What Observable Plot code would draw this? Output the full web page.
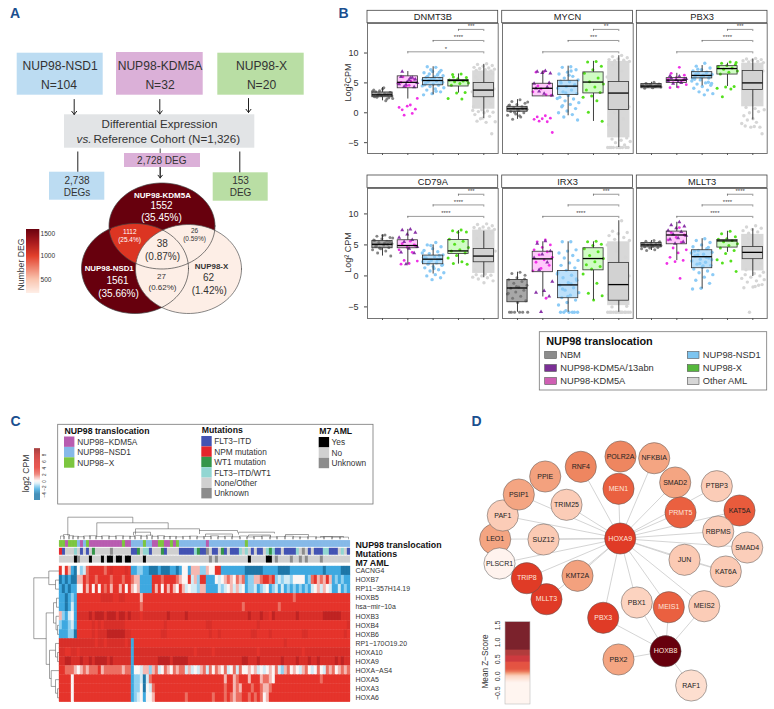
<!DOCTYPE html>
<html><head><meta charset="utf-8">
<script src="https://cdn.jsdelivr.net/npm/d3@7"></script>
<script src="https://cdn.jsdelivr.net/npm/@observablehq/plot@0.6"></script>
<style>html,body{margin:0;padding:0;background:#fff}#page{position:relative;width:774px;height:709px;overflow:hidden}#page svg{position:absolute;overflow:visible}</style>
</head><body><div id="page"></div>
<script>
// ---------- Panel B data: [low whisker, q1, median, q3, high whisker] for each group
const groups=["NBM","NUP98-KDM5A","NUP98-NSD1","NUP98-X","Other AML"];
const DNMT3B_box=[[2,2.6,3,3.4,4.2],[2.3,4.1,5.1,6.1,6.9],[3,4.6,5.4,5.8,7.7],[3.3,4.4,5.4,5.5,6.5],[-.95,2.6,3.8,5,8.1]];
const MYCN_box=[[-1.1,.17,.67,1,2.2],[2.7,2.74,4.1,4.86,7],[-.5,2.96,4.46,5.36,7.8],[-1.45,3.24,5.14,6.76,8.6],[-5.8,.45,3.3,5.14,9.55]];
const PBX3_box=[[4,4.1,4.46,4.8,5.1],[4.1,5,5.47,5.8,6.6],[4.5,5.75,6.25,6.8,7.9],[4.4,6.4,7.4,7.8,8.3],[-1.2,3.8,5,7,9]];
const CD79A_box=[[3.2,4.46,5.1,5.65,6.6],[1.8,4.46,4.9,5.75,7.5],[.3,1.88,2.7,3.28,5],[1.9,3.55,4.03,5.8,7.3],[-.3,2.2,3.2,4.35,7.2]];
const IRX3_box=[[-5.86,-4.25,-1.95,-.65,.6],[-3.4,.6,2.75,3.9,5.5],[-5.86,-3.6,-1.45,.8,5.5],[-3.9,.9,2.8,4.46,5.5],[-5.86,-4,-1.4,2.1,8.9]];
const MLLT3_box=[[4.1,4.6,5,5.3,5.7],[2.47,5.1,6.6,7.15,8.65],[-2.1,1.24,3.1,4.14,6],[3.8,4.57,5.65,5.8,7.2],[-.1,2.7,3.8,4.68,7.6]];
// points: NBM, KDM5A, KDM5A/13abn, NSD1, X, Other (tails of the cloud and outliers)
const DNMT3B_pts=[[3.1,2.6,3.4,2.9,3.8,2.3,3.2,2.8,4.2,3.5,2.5,3,3.6,2,2.9,3.3,4,2.7,3.1,3.7,2.4,3.2],
[1.3,.5,.6,1.1,.9,-.1,-.4,2.4,4.6,5.1,5.6,4.4,4.9,5.3,6],[5.8,6.9,5.6,5.2,4.8,5.9,4.4,5,5.5,6,4.3,4.7],
[7.6,7.7,7.1,6.9,6.7,6.4,6.5,6.2,6,5.9,5.8,5.6,5.5,5.3,5.2,5,4.8,4.7,4.6,4.4,4.2,4,3.8,3.5,3.2,3,6.3,5.4,5.1,5.7,4.9,6.8,7.2,4.5,3.6,6.1],
[6.5,6.4,5.9,5.7,5.5,5.3,5.2,5,4.9,4.6,3.4,3.3,2.4,2.3,6,5.4],[8.2,8.1,7.9,7.8,7.6,7.5,7.4,7.3,7.2,7.1,7,.5,.4,.3,.2,.1,0,-.3,-.6,-1,-1.5,-1.6,-1.4,-3.5,-.9,1,2,3,4,5,6,1.5,2.5,3.5,4.5,5.5,6.5]];
const MYCN_pts=[[2.2,1.9,1.6,1.4,1.2,1,.8,.6,.4,.2,0,-.2,-.4,-.7,-1.1,.9,.5,1.3,.7,.1,1.8,-.5],
[-.5,-.7,-.9,-1,-1.1,-1.5,-1.4,-3.3,6.9,6.8,4.9,4,3.5,3,4.5,2.9],[7,6.9,6.6,6.7,4.9,4.3,3.6,2.9,3.2,4.1,5],
[7.7,7.6,7.2,6.8,6.5,6.1,5.8,5.5,5.2,5,4.7,4.4,4.1,3.8,3.5,3.2,2.9,2.6,2.3,2,1.7,1.4,1,.7,.3,0,-.3,-.7,-1.2,6.3,5.3,4.5,3.3,2.4,7,1.2],
[8.6,8.5,7.8,7.2,6.6,5.8,5.2,4.8,4.3,3.8,3.4,2.8,2.6,2,.1,-1.4],[9.6,9.4,9.2,9,8.9,8.8,8.7,8.6,-5.8,-5.8,-5.8,-5.8,-5.8,-5.8,-5.8,-5.8,-5.8,-5.8,-5.4,-5,-4.8,-4.6,-4.4,-4.2,-3,-2,-1,0,1,2,3,4,5,6,7,8]];
const PBX3_pts=[[5.1,4.9,4.8,4.7,4.6,4.5,4.4,4.3,4.2,4.1,4.6,4.7,4.5,4.4,4.8],
[7.6,6.6,6.3,5.9,5.6,5.3,5,4.7,4.3,4.2,5.5],[6.1,5.8,5.6,5.5,5.3,5,4.9,5.7,5.2,6.2],
[8.3,7.8,7.5,7.2,7,6.8,6.6,6.4,6.2,6,5.8,5.5,5.3,5,4.8,4.6,4.4,4.1,3.8,3.5,3.2,3,6.5,6.1,5.9,5.7,6.7,7.3,4.9,6.3,5.6,5.1],
[8.5,8.3,8.1,7.9,7.7,7.5,7.3,7,6.8,6.5,4.4,4.3,4.1,4,2.7,8.4],[9.1,9,8.9,8.8,8.7,8.6,8.5,8.4,-2.3,-2.2,-2.4,-2.4,-1.8,-1.6,-1.2,-3.5,-1,-.5,.2,0,.5,.7,.9,2,3,4,5,6,7,8]];
const CD79A_pts=[[6.6,6.4,6.2,6,5.8,5.6,5.4,5.2,5,4.8,4.6,4.4,4.2,4,3.7,3.2,6.5,5.7,5.1,4.5,6.1,5.3,4.9,5.5],
[5.6,5.2,4.9,4.6,4.2,3.8,2.5,2.4,2,1.9,5],[7.5,7.4,7,6.7,6.2,5.8,5.5,4.7,4.4,3.8,3.7,1.9],
[5.4,5,4.7,4.4,4.1,3.9,3.6,3.4,3.1,2.9,2.7,2.5,2.3,2.1,1.9,1.7,1.5,1.3,1,.8,.5,.2,0,-.3,-.6,3,2.6,2.2,1.8,1.2,2.8,3.3,4.9,3.7],
[7.4,7.3,7.1,7.05,5.9,5.6,5.1,4.6,4.2,4,3.7,3.3,2.9,2.3,2,1.9],[8.4,8.3,8.1,7.9,7.8,7.7,7.6,7.5,.3,.2,.1,0,-.2,-.3,-.5,-.8,-1.1,1,2,3,4,5,6,7]];
const IRX3_pts=[[.6,.4,.1,-.3,-.6,-.9,-1.2,-1.5,-1.8,-2,-2.3,-2.6,-2.9,-3.3,-3.6,-4,-4.3,-5.85,-5.85,-5.85,-5.85,-5.85,-5.85,-.5,-1.7,-2.8],
[5.8,5.5,5,4.6,4.2,3.9,3.4,3,2.6,2.2,1.7,1.2,.8,-3.6],[5.6,5.2,4,3.5,2.9,2.2,1,-.9,-2.4,-2.7,-3.3,-5.8],
[5.5,5.5,4.2,4,3.7,3.3,2.9,2.5,2.1,1.7,1.3,.9,.5,.1,-.3,-.7,-1.1,-1.5,-1.9,-2.3,-2.7,-3.1,-3.5,-3.9,-4.3,-4.7,-5.85,-5.85,-5.85,-5.85,-5.85,-5.85,-5.6,.3,-1.3,-2.1,-.5,-3.3],
[5.6,5.5,5.1,4.9,4.4,3.9,3.3,2.8,2.3,1.8,1.5,1.1,.3,-1.2,-2.8,-3.2,-3.9],[8.9,7.2,7,6.8,6.5,6.2,5.9,5.7,-5.85,-5.85,-5.85,-5.85,-5.85,-5.85,-5.85,-5.85,-5.85,-5.85,-5.85,-5.85,-5.85,-5.85,-5,-4.9,-4,-3,-2,-1,0,1,2,3,4,5]];
const MLLT3_pts=[[5.7,5.6,5.4,5.3,5.2,5.1,5,4.9,4.8,4.7,4.6,4.5,4.4,4.2,4.1,5.5,4.9,5.2],
[7.8,7,6.6,6.2,5.8,5.4,4.5,4.2,3.7,3,2.5,2.3,2,-.4],[8.7,8.2,8,7.7,7.3,7.1,6.7,6.5,6.1,5.9,5.5,5.2],
[6,5.7,5.4,5,4.7,4.4,4.1,3.8,3.5,3.2,2.9,2.7,2.4,2.2,1.9,1.7,1.4,1.1,.8,.5,.2,-.2,-.7,-1.2,-2,-2.1,3,3.4,2.6,1.6,4,4.6,2,3.7],
[7.2,6.8,6.3,6,5.9,5.7,5.5,5.2,4.9,4.5,4.1,3.6,2.6,2.4,2.1,.7],[8.1,7.9,7.7,7.5,7.3,7.1,6.9,.6,.4,.2,0,-.2,-.4,-.8,-1,-1.4,-1.8,-1.9,-1.5,-5.85,-.6,-1.7,1,2,3,4,5,6]];
// dense core of the Other AML cloud per gene
const cloudExtent=[[.6,7],[-4.2,8.6],[1,8.3],[.4,7.4],[-4.8,5.5],[.8,6.7]];
const stars=[["*","****","***"],["","***","**"],["","****","***"],["****","****","***"],["****","","***"],["****","****","****"]];
const bracketV=[[10.2,12.1,13.95],[9.6,11.45,13.17]];
const genesB=["DNMT3B","MYCN","PBX3","CD79A","IRX3","MLLT3"];
const boxesB=[DNMT3B_box,MYCN_box,PBX3_box,CD79A_box,IRX3_box,MLLT3_box];
const ptsB=[DNMT3B_pts,MYCN_pts,PBX3_pts,CD79A_pts,IRX3_pts,MLLT3_pts];
const legendB=["NBM","NUP98-KDM5A/13abn","NUP98-KDM5A","NUP98-NSD1","NUP98-X","Other AML"];
const legendBColors=["#8c8c8c","#7b2f96","#cf5fb3","#7cc4ef","#55b83c","#d6d6d6"];

// ---------- Panel C data
const heatGenes=["CACNG4","HOXB7","RP11−357H14.19","HOXB5","hsa−mir−10a","HOXB3","HOXB4","HOXB6","RP1−170O19.20","HOXA10","HOXA9","HOXA−AS4","HOXA5","HOXA3","HOXA6"];
const heatLevels=[-4,-2.5,-1.5,-.8,0,1,2,4,6,8]; // value of each digit used below
const heatColors=["#1f77a8","#3fa9e0","#8fd0f0","#d3ebf5","#fbf6f5","#f5b8b2","#ec6f62","#e5342c","#d9302a","#bf2423"];
const heatRows=[
"7475104236 7777767877 7787112211 0001000110 1441555225 4477111111 1100000011 1110000111 1111111101 1111000",
"0101005576 7767777677 7677655111 1777677776 5447352771 1143456546 5612255677 6723233244 4412675657 5121211",
"1010114475 7474767577 5747545111 1757475754 7534332551 1113234535 3412231234 1231312121 2121345354 3113121",
"1101217777 7777888877 8877777577 7777777777 7777777777 7777777777 7777777777 7777777767 7777777777 7777777",
"1101317777 7777777777 7777777677 7777777777 7777777777 7777777777 7677777777 7776777777 7777777777 7777777",
"5213418888 9899989998 9989888788 8888889888 8898888888 8888888888 8889888988 7988888889 8888888899 9999888",
"2112317777 7878788888 8877777777 7777787777 7777777778 8777777777 7777778777 7777777777 7777777777 7777778",
"1112207777 7878889999 9988777777 7777887777 7777777777 8778777777 7777887777 8777777777 7887777777 7777787",
"8888888888 8878878888 8878177777 7777777777 7777777777 7777777777 7777777777 7777787777 7777777777 7777777",
"8877887888 8888888888 8888188888 8888888888 8888878888 8788888888 8888887888 8888888888 8788888888 8888888",
"8899888988 9899998988 8888188888 8889999899 9998888888 8888888888 8998889888 8888988889 8889889888 8898988",
"7766654565 6667566666 6566144355 2563465465 6635343563 6465463463 6445453434 5463256454 3564346436 5645656",
"7777477777 7777777777 7777122303 6777777777 7777777777 7777757756 7775777566 5477777777 7777777677 7777777",
"7777477777 7777777777 7777122404 3677777777 7777777777 7777767756 5777677655 6777777777 7777777777 7777777",
"7777477777 7777777777 7777123414 4577777777 7767777777 7677767656 6776767645 7777777777 7777777777 7777777"];
const annTrans="XXKXXXNKNX KKKKKKKKKK KXKKNNNNXN NKKXXKKXKX NNNNNNNNNK NNNNNNNNNN NNXNNNNNNN NNNNNNNNNN NNNNNNNNNN NNNNNNN";
const annMut="PFOOOTOFOF OWOOOOOUOO OOOOFFWOTT FOOOWFOOOO FFFFFTWFFU OFFOWFOFFF TOTOFOFFOT WTFFOFFFFT OUOFOFFFTT FFFOTOF";
const annM7="NNNNNYUNNN YNNNYNYYNY YNYYNNNNYN NNNNNNNNNN NNNNNNNNNN UNUNNNNNNN NNNYNNNNNY YNUNNNNUNN UNUNNNNUNN NNNNNNN";
const transNames=["NUP98−KDM5A","NUP98−NSD1","NUP98−X"], transColors=["#b85cb0","#86b9e8","#7cc63f"];
const mutNames=["FLT3−ITD","NPM mutation","WT1 mutation","FLT3−ITD/WT1","None/Other","Unknown"], mutColors=["#4353b3","#e5262b","#35964a","#92d6d2","#d0d0d0","#8c8c8c"];
const m7Names=["Yes","No","Unknown"], m7Colors=["#000000","#d0d0d0","#8c8c8c"];
const transMap={K:transColors[0],N:transColors[1],X:transColors[2]};
const mutMap={F:mutColors[0],P:mutColors[1],W:mutColors[2],T:mutColors[3],O:mutColors[4],U:mutColors[5]};
const m7Map={Y:m7Colors[0],N:m7Colors[1],U:m7Colors[2]};
const annNames=["NUP98 translocation","Mutations","M7 AML"];

// ---------- Panel D data: mean z-score per node (draw order bottom to top)
const nodeNames=["LEO1","PAF1","PSIP1","PPIE","PLSCR1","MLLT3","TRIP8","KMT2A","SUZ12","TRIM25","RNF4","POLR2A","MEN1","NFKBIA","SMAD2","PRMT5","PTBP3","KAT5A","SMAD4","RBPMS","JUN","KAT6A","PBX1","MEIS1","MEIS2","PBX3","PBX2","RAF1","HOXB8","HOXA9"];
const nodeZ=[.05,-.01,.05,.055,-.3,.3,.25,.055,0,-.01,.09,.09,.13,.05,.05,.13,-.01,.14,-.02,-.01,0,0,-.04,.13,-.01,.27,.05,-.09,1.3,.25];
const zStops=[-.2,-.1,0,.05,.1,.13,.2,.42,.43,.6,.61,.76,.77,1.6];
const zColors=["#fff3ee","#fde0d2","#fbcab4","#f4a582","#ec7e58","#ea6040","#e03d26","#e03626","#c81c22","#c81c22","#a51f1f","#a51f1f","#67000d","#67000d"];
const hoxa9Links=["MEN1","RNF4","NFKBIA","SMAD2","PRMT5","PTBP3","KAT5A","RBPMS","SMAD4","JUN","KAT6A","MEIS2","MEIS1","PBX1","PBX3","KMT2A","TRIP8","MLLT3","PLSCR1","LEO1","SUZ12","PAF1","PSIP1","TRIM25"];
const hoxb8Links=["PBX1","MEIS1","MEIS2","PBX3","PBX2","RAF1"];

// ---------- Layout (page pixels) of the diagram elements, separate from the data
const nodeXY={HOXA9:[619.7,538],POLR2A:[620,456],NFKBIA:[653.7,457.7],RNF4:[580.3,466.3],MEN1:[618,488.3],SMAD2:[674.7,482],PTBP3:[716.3,485.7],PPIE:[544.7,476],PSIP1:[518.3,494],TRIM25:[566,504.3],PRMT5:[680,512],KAT5A:[739,510],PAF1:[502.3,515],RBPMS:[717.7,531],SMAD4:[746.7,547],LEO1:[494.7,538.7],SUZ12:[543,539],JUN:[684,559.3],KAT6A:[725.3,571],PLSCR1:[499,563],TRIP8:[526.3,577.7],KMT2A:[577,575.3],MLLT3:[546,598.7],PBX1:[636.3,602],MEIS1:[668.3,606.7],MEIS2:[703.7,605.7],PBX3:[602.7,617.3],HOXB8:[665,650.7],PBX2:[618,659],RAF1:[690.7,685]};
const whiteNodes=new Set(["HOXA9","MEN1","PRMT5","TRIP8","MLLT3","MEIS1","PBX3","HOXB8"]);
const topBrackets=[[67.3,132.3,516.7,535,522.3],[96.3,167.7,522.3,535.5,528.3],[135,199,528.3,534,530.5],[133,150,531.7,535,535],[199,237,530,533.5,532],[238,274,531.7,534,533],[285,308,534,536,536],[320,343,536,537,537],[205,232,533.5,536,536],[248,270,534.5,536,536]];
const leafBrackets=[[60,64,535.5],[63,69,534],[68,73,535.2],[72,78,535.8],[77,84,536.2],[83,90,535.5],[89,96,535.2],[95,102,536],[101,109,535.4],[108,116,535.9],[115,123,535.3],[122,130,535.7],[129,135,535.9],[134,141,535.1],[140,147,535.6],[146,152,534.7],[151,158,535.8],[157,164,535.2],[163,170,536],[169,176,535.9],[175,183,536.3],[182,190,535.9],[189,197,535.6],[196,204,536.3],[203,211,536],[210,218,535.3],[217,225,536.2],[224,232,535.7],[231,240,536.3],[239,247,535.5],[246,254,536.4],[253,262,536],[261,270,535.6],[269,277,536.4],[276,285,536.1],[284,293,535.7],[292,300,536.3],[299,308,536.5],[307,316,536.2],[315,324,536.6],[323,332,536.3],[331,340,536.7],[339,348,536.6]];
const rowTree=[33.3,[48.3,0,[55,1,2]],[45.7,[53,[56,3,4],[55.5,5,[57,6,7]]],[49,[55,8,[57,9,10]],[50.7,11,[55,12,[57,13,14]]]]]];

const W=774,H=709,font="'Liberation Sans',Arial,sans-serif";
const page=document.getElementById("page");
const place=(svg,l,t)=>{svg.style.left=l+"px";svg.style.top=t+"px";page.appendChild(svg);};
const L=(x,y,text,o={})=>Plot.text([{x,y,t:text}],{x:"x",y:"y",text:"t",fontSize:8,fill:"#333",...o});
const R=(x1,x2,y1,y2,fill,o={})=>Plot.rect([{x1,x2,y1,y2}],{x1:"x1",x2:"x2",y1:"y1",y2:"y2",fill,...o});
const S=(x1,y1,x2,y2,o={})=>Plot.link([{x1,y1,x2,y2}],{x1:"x1",y1:"y1",x2:"x2",y2:"y2",stroke:"#222",strokeWidth:1,...o});
const Arrow=(x,y1,y2)=>Plot.arrow([{x1:x,y1,x2:x,y2}],{x1:"x1",y1:"y1",x2:"x2",y2:"y2",stroke:"#222",strokeWidth:1,headLength:6,headAngle:75});

// ellipses of the Venn diagram
const ell=(cx,cy,rx,ry)=>d3.range(0,361,4).map(a=>({x:cx+rx*Math.cos(a*Math.PI/180),y:cy+ry*Math.sin(a*Math.PI/180)}));
const eK=[161.5,225.5,53,43],eN=[134.5,268,53.5,45],eX=[188,268.5,53,44.5];
const inside=(p,e)=>((p.x-e[0])/e[2])**2+((p.y-e[1])/e[3])**2<1;
const lensRaw=[...ell(...eK).filter(p=>inside(p,eN)),...ell(...eN).filter(p=>inside(p,eK))];
const lc=[d3.mean(lensRaw,d=>d.x),d3.mean(lensRaw,d=>d.y)];
const lens=lensRaw.sort((a,b)=>Math.atan2(a.y-lc[1],a.x-lc[0])-Math.atan2(b.y-lc[1],b.x-lc[0]));
const poly=(pts,o)=>Plot.line(pts,{x:"x",y:"y",curve:"linear-closed",...o});

const zCol=d3.scaleLinear().domain(zStops).range(zColors).clamp(true);
const heatCol=d3.scaleLinear().domain(heatLevels).range(heatColors).clamp(true);
const ramp=(x1,x2,yTop,yBot,valueAt,col)=>{const o=[];for(let y=yTop;y<yBot;y+=1)o.push({x1,x2,y1:y,y2:Math.min(y+1.1,yBot),c:col(valueAt(y+.5))});return Plot.rect(o,{x1:"x1",x2:"x2",y1:"y1",y2:"y2",fill:"c"});};
const numCol=d3.scaleLinear().domain([150,500,1000,1300,1600]).range(["#fff5f0","#f9c3ad","#e2402c","#a81a1e","#67000d"]).clamp(true);

// row / column dendrograms
const rowY=i=>566+9.053*(i+.5);
const dendroSegs=[];
(function walk(n){if(typeof n==="number")return{x:58.7,y:rowY(n)};const a=walk(n[1]),b=walk(n[2]);
 dendroSegs.push({x1:n[0],y1:a.y,x2:n[0],y2:b.y},{x1:n[0],y1:a.y,x2:a.x,y2:a.y},{x1:n[0],y1:b.y,x2:b.x,y2:b.y});return{x:n[0],y:(a.y+b.y)/2};})(rowTree);
for(const [a,b,y,d1,d2] of topBrackets)dendroSegs.push({x1:a,y1:y,x2:b,y2:y},{x1:a,y1:y,x2:a,y2:d1},{x1:b,y1:y,x2:b,y2:d2});
const leafSegs=[];for(const [a,b,y] of leafBrackets)leafSegs.push({x1:a,y1:y,x2:b,y2:y},{x1:a,y1:y,x2:a,y2:538.8},{x1:b,y1:y,x2:b,y2:538.8});

const marks=[];
const letter=(x,y,t)=>L(x,y,t,{fontSize:14,fontWeight:"bold",fill:"#1b4f8f"});
marks.push(letter(14.5,13.5,"A"),letter(343,13.5,"B"),letter(15,421,"C"),letter(476,421,"D"));
// -- Panel A
marks.push(R(16.7,102.7,52.7,94.7,"#bcdcf2"),R(116,202.7,52,94.7,"#dbb0d8"),R(217.3,303.7,52.7,94.7,"#b9dea4"),R(64,254.3,114.3,147.7,"#e2e4e6"));
const big={fontSize:12.1,fill:"#333"};
marks.push(L(59.7,66,"NUP98-NSD1",big),L(58.5,85,"N=104",big),L(159.5,66,"NUP98-KDM5A",big),L(159.5,85,"N=32",big),L(261,65.5,"NUP98-X",big),L(261,85,"N=20",big));
marks.push(L(159,124,"Differential Expression",{fontSize:11.6}),L(83.5,139,"vs.",{fontSize:11.6,fontStyle:"italic"}),L(93,139,"Reference Cohort (N=1,326)",{fontSize:11.6,textAnchor:"start"}));
marks.push(Arrow(73.7,99,114),Arrow(159.3,99,113.5),Arrow(248,98,112));
marks.push(S(77.3,151,77.3,171.5),S(239.3,151,239.3,172.5),S(159.7,148,159.7,177,{strokeWidth:.8}));
marks.push(R(49,104.3,171.7,199.7,"#bcdcf2"),R(124,200,153,167,"#dbb0d8"),R(212.7,267.7,172.3,200.7,"#b9dea4"));
marks.push(Arrow(159.7,167,177.5));
const mid={fontSize:10};
marks.push(L(76.5,180.5,"2,738",mid),L(76.5,192.7,"DEGs",mid),L(161.3,160.5,"2,728 DEG",mid),L(240,180,"153",mid),L(240,192.7,"DEG",mid));
marks.push(poly(ell(...eK),{fill:"#67000d"}),poly(ell(...eN),{fill:"#67000d"}),poly(lens,{fill:"#dc3522"}),poly(ell(...eX),{fill:"#fdeee6"}));
marks.push(poly(ell(...eX),{stroke:"#555",strokeWidth:.7,fill:"none"}),poly(ell(...eK),{stroke:"#444",strokeWidth:.7,fill:"none"}),poly(ell(...eN),{stroke:"#444",strokeWidth:.7,fill:"none"}));
const w={fill:"#fff"},dk={fill:"#333"};
marks.push(L(162,195,"NUP98-KDM5A",{...w,fontSize:8,fontWeight:"bold"}),L(161,205,"1552",{...w,fontSize:10}),L(161,217,"(35.45%)",{...w,fontSize:10}));
marks.push(L(129.3,231.5,"1112",{...w,fontSize:6.5}),L(129,239,"(25.4%)",{...w,fontSize:6.5}),L(194,230.5,"26",{...dk,fontSize:6.5}),L(194,238.7,"(0.59%)",{...dk,fontSize:6.5}));
marks.push(L(161.7,243.7,"38",{...dk,fontSize:10}),L(162,256,"(0.87%)",{...dk,fontSize:10}));
marks.push(L(108.7,268,"NUP98-NSD1",{...w,fontSize:7.9,fontWeight:"bold"}),L(117,280.7,"1561",{...w,fontSize:10}),L(118,293,"(35.66%)",{...w,fontSize:10}));
marks.push(L(161,276,"27",{...dk,fontSize:8}),L(162,286.7,"(0.62%)",{...dk,fontSize:8}));
marks.push(L(211,266,"NUP98-X",{...dk,fontSize:7.9,fontWeight:"bold"}),L(208,277,"62",{...dk,fontSize:10}),L(208.7,290,"(1.42%)",{...dk,fontSize:10}));
marks.push(ramp(26,39.3,229,293,y=>1500-(y-233)*1000/46,numCol));
marks.push(L(40,233,"1500",{fontSize:6.6,textAnchor:"start"}),L(40,255.7,"1000",{fontSize:6.6,textAnchor:"start"}),L(40,279,"500",{fontSize:6.6,textAnchor:"start"}),L(21,264,"Number DEG",{fontSize:8.7,rotate:-90}));
// -- Panel B strips, axis titles
const panelL=[367,501.7,636.3],panelW=130.7;
genesB.forEach((g,i)=>{const c=i%3,t=i<3?10.3:175;
 marks.push(R(panelL[c],panelL[c]+panelW,t,t+12.4,"#fff",{stroke:"#444",strokeWidth:.8}),L(panelL[c]+panelW/2,t+6.4,g,{fontSize:9.3,fill:"#222"}));});
marks.push(L(348,82,"Log²CPM",{fontSize:9,rotate:-90}),L(348,252,"Log² CPM",{fontSize:9,rotate:-90}));
// legend B
marks.push(R(539.3,766.7,331.7,390,"#fff",{stroke:"#777",strokeWidth:.8}),L(545.7,341,"NUP98 translocation",{fontSize:10.9,fontWeight:"bold",textAnchor:"start",fill:"#111",letterSpacing:.2}));
legendB.forEach((n,i)=>{const col=i<3?0:1,y=355+13*(i%3),x=col?687.3:544.7;
 marks.push(R(x,x+11.7,y-3.5,y+3.5,legendBColors[i],{stroke:"#555",strokeWidth:.6}),L(x+15,y,n,{fontSize:9.3,textAnchor:"start"}));});
// -- Panel C legends
marks.push(R(57.7,373,424.3,504,"#fff",{stroke:"#777",strokeWidth:.8}));
marks.push(ramp(34,40,448.3,500,y=>(481-y)/3.33,v=>v>8?d3.interpolateRgb("#bf2423","#8c1414")((v-8)/2):heatCol(v)));
[8,6,4,2,0,-2,-4].forEach(v=>marks.push(L(44.5,481-v*3.33,String(v).replace("-","−"),{fontSize:4.6,rotate:-90})));
marks.push(L(26,473,"log2 CPM",{fontSize:8.6,rotate:-90}));
const legCol=(title,names,cols,x,yt,y0,tx)=>{marks.push(L(x,yt,title,{fontSize:8.7,fontWeight:"bold",textAnchor:"start",fill:"#111"}));
 names.forEach((n,i)=>{const y=y0+10.4*i;marks.push(R(x,x+10.4,y,y+10.4,cols[i]),L(tx,y+5.2,n,{fontSize:8.3,textAnchor:"start"}));});};
legCol("NUP98 translocation",transNames,transColors,64,430.7,436.5,76.7);
legCol("Mutations",mutNames,mutColors,201.3,430.2,436,213.7);
legCol("M7 AML",m7Names,m7Colors,318.7,431,437,331);
// dendrograms
marks.push(Plot.link(dendroSegs,{x1:"x1",y1:"y1",x2:"x2",y2:"y2",stroke:"#555",strokeWidth:.55}),Plot.link(leafSegs,{x1:"x1",y1:"y1",x2:"x2",y2:"y2",stroke:"#333",strokeWidth:.4}));
annNames.forEach((n,i)=>marks.push(L(355,[544.7,553.7,562.5][i],n,{fontSize:8.8,fontWeight:"bold",textAnchor:"start",fill:"#111"})));
heatGenes.forEach((g,i)=>marks.push(L(355,rowY(i),g,{fontSize:6.9,textAnchor:"start"})));
// -- Panel D
const edges=[...hoxa9Links.map(n=>["HOXA9",n]),...hoxb8Links.map(n=>["HOXB8",n]),["JUN","KAT6A"]].map(([a,b])=>({x1:nodeXY[a][0],y1:nodeXY[a][1],x2:nodeXY[b][0],y2:nodeXY[b][1]}));
marks.push(Plot.link(edges,{x1:"x1",y1:"y1",x2:"x2",y2:"y2",stroke:"#cfcfcf",strokeWidth:.9}));
nodeNames.forEach((n,i)=>{const [x,y]=nodeXY[n];
 marks.push(Plot.dot([{x,y}],{x:"x",y:"y",r:15.6,fill:zCol(nodeZ[i]),stroke:"#555",strokeWidth:.5}));});
nodeNames.forEach(n=>{const [x,y]=nodeXY[n];marks.push(L(x,y,n,{fontSize:7,fill:whiteNodes.has(n)?"#fde5dc":"#222"}));});
marks.push(ramp(505,530,621.7,704,y=>1.5-(y-625)/33.85,zCol),R(505,530,621.7,704,"none",{stroke:"#bbb",strokeWidth:.6}));
[1.5,1,.5,0,-.5].forEach(v=>marks.push(L(497.5,625+(1.5-v)*33.85,(v<0?"−":"")+Math.abs(v).toFixed(1),{fontSize:7,rotate:-90})));
marks.push(L(485,661,"Mean Z−Score",{fontSize:8.2,rotate:-90}));

place(Plot.plot({width:W,height:H,margin:0,x:{domain:[0,W],range:[0,W],axis:null},y:{domain:[0,H],range:[0,H],axis:null},color:{type:"identity"},style:{fontFamily:font,background:"transparent"},marks}),0,0);

// -- Panel B plots drawn through their own scales
const pxPerV=[5.977,6.2];
const fills=["#8a8a8a","#ffb4fa","#a5d6f8","#c0fbb0","#d2d2d2"];
genesB.forEach((g,i)=>{
 const c=i%3,row=i<3?0:1,box=boxesB[i],pts=ptsB[i];
 const top=row?187.7:22.7,hh=130,yMax=row?14.1:14.94,yMin=yMax-hh/pxPerV[row];
 const jit=(j,a)=>((j*.618034)%1-.5)*2*a;
 const cloud=(vals,xc,a)=>vals.map((v,j)=>({x:xc+jit(j+1,a),y:v}));
 const boxData=box.map((b,j)=>({x:j+1,lo:b[0],q1:b[1],med:b[2],q3:b[3],hi:b[4],c:fills[j]}));
 const br=bracketV[row].map((v,j)=>({x1:j+2,x2:5,y:v,s:stars[i][j],xm:(j+2+5)/2}));
 const marksB=[
  Plot.frame({stroke:"#666",strokeWidth:.9}),
  Plot.rect([{}],{x1:5-.44,x2:5+.44,y1:cloudExtent[i][0],y2:cloudExtent[i][1],fill:"#d8d8d8"}),
  Plot.dot(cloud(pts[5],5,.47),{x:"x",y:"y",r:1.7,fill:"#d6d6d6"}),
  Plot.rect(boxData.slice(0,4),{x1:d=>d.x-.4,x2:d=>d.x+.4,y1:"q1",y2:"q3",fill:"c",fillOpacity:.75}),
  Plot.dot(cloud(pts[0],1,.42),{x:"x",y:"y",r:1.5,fill:"#707070",fillOpacity:.85}),
  Plot.dot(cloud(pts[1],2,.42),{x:"x",y:"y",r:1.4,fill:"#f030e6"}),
  Plot.dot(cloud(pts[2],2,.42),{x:"x",y:"y",r:1.5,symbol:"triangle",fill:"#8a34a8"}),
  Plot.dot(cloud(pts[3],3,.44),{x:"x",y:"y",r:1.7,fill:"#8ccbf6"}),
  Plot.dot(cloud(pts[4],4,.44),{x:"x",y:"y",r:1.5,fill:"#55e01e"}),
  Plot.rect(boxData.slice(4),{x1:d=>d.x-.4,x2:d=>d.x+.4,y1:"q1",y2:"q3",fill:"#d2d2d2"}),
  Plot.ruleX(boxData,{x:"x",y1:"lo",y2:"q1",stroke:"#2a2a2a",strokeWidth:.9}),
  Plot.ruleX(boxData,{x:"x",y1:"q3",y2:"hi",stroke:"#2a2a2a",strokeWidth:.9}),
  Plot.rect(boxData,{x1:d=>d.x-.4,x2:d=>d.x+.4,y1:"q1",y2:"q3",stroke:"#333",strokeWidth:.8,fill:"none"}),
  Plot.ruleY(boxData,{x1:d=>d.x-.4,x2:d=>d.x+.4,y:"med",stroke:"#000",strokeWidth:1.3}),
  Plot.ruleY(br,{x1:"x1",x2:"x2",y:"y",stroke:"#555",strokeWidth:.6}),
  Plot.ruleX(br,{x:"x1",y1:"y",y2:d=>d.y-.35,stroke:"#555",strokeWidth:.6}),
  Plot.ruleX(br,{x:"x2",y1:"y",y2:d=>d.y-.35,stroke:"#555",strokeWidth:.6}),
  Plot.text(br,{x:"xm",y:"y",text:"s",dy:-3,fontSize:6,fill:"#444"}),
  Plot.axisX({ticks:[1,2,3,4,5],tickFormat:()=>"",tickSize:2,label:null,stroke:"#555"}),
 ];
 if(c===0)marksB.push(Plot.axisY({ticks:[-5,0,5,10],tickSize:3,label:null,fontSize:9,tickFormat:v=>v<0?"−"+(-v):v,stroke:"#444",fill:"#333"}));
 const xd=[1-15/25.33,1-15/25.33+panelW/25.33];
 place(Plot.plot({width:panelW+30,height:hh+5,marginLeft:30,marginRight:0,marginTop:0,marginBottom:5,
  x:{domain:xd,axis:null},y:{domain:[yMin,yMax],axis:null},color:{type:"identity"},
  style:{fontFamily:font,background:"transparent"},marks:marksB}),panelL[c]-30,top);
});

// -- Panel C heatmap drawn through band + colour scales
const parseRow=s=>s.replace(/ /g,"").split("");
const N=parseRow(heatRows[0]).length,cols=d3.range(N);
const cells=[];heatRows.forEach((r,ri)=>parseRow(r).forEach((ch,ci)=>cells.push({i:ci,g:heatGenes[ri],v:heatLevels[+ch]})));
const heat=Plot.plot({width:291,height:135.8,margin:0,x:{type:"band",domain:cols,padding:0,round:false,axis:null},y:{type:"band",domain:heatGenes,padding:0,round:false,axis:null},
 color:{type:"linear",domain:heatLevels,range:heatColors,interpolate:"rgb"},style:{background:"transparent"},
 marks:[Plot.cell(cells,{x:"i",y:"g",fill:"v",stroke:"v",strokeWidth:.35})]});
place(heat,58.7,566);
const annRows=[[annTrans,transMap,"a"],[annMut,mutMap,"b"],[annM7,m7Map,"c"]];
const annCells=[];annRows.forEach(([s,m,k])=>parseRow(s).forEach((ch,ci)=>annCells.push({i:ci,k,c:m[ch]})));
place(Plot.plot({width:291,height:24.6,margin:0,x:{type:"band",domain:cols,padding:0,round:false,axis:null},y:{type:"band",domain:["a","b","c"],padding:.14,round:false,axis:null},color:{type:"identity"},style:{background:"transparent"},
 marks:[Plot.cell(annCells,{x:"i",y:"k",fill:"c",stroke:"c",strokeWidth:.2})]}),58.7,539.3);
</script></body></html>
